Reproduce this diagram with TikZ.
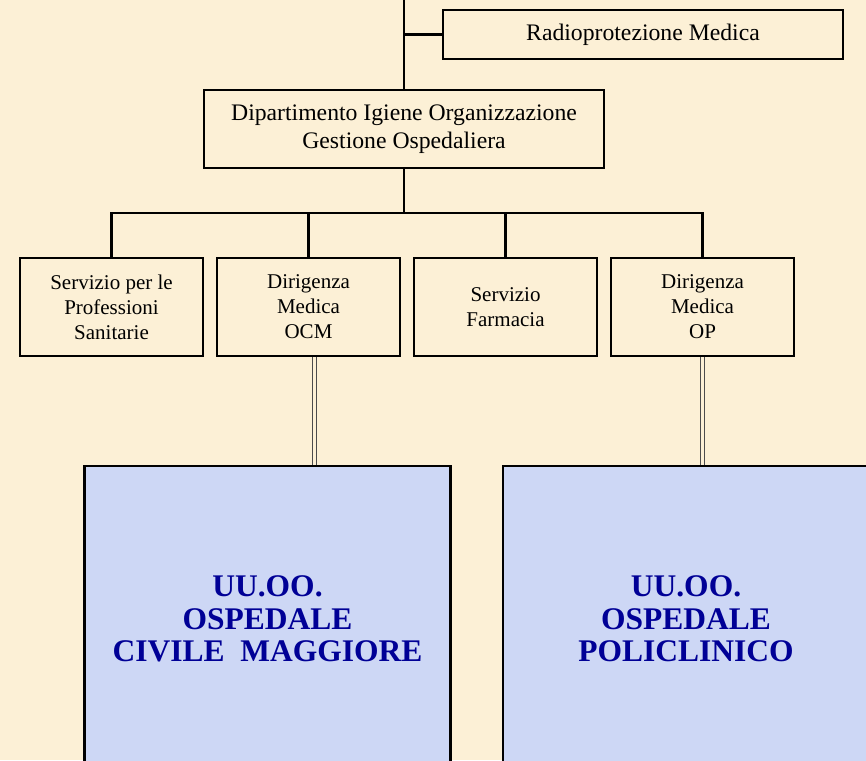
\documentclass[tikz,border=0pt]{standalone}
\usepackage{fontspec}
\setmainfont{Liberation Serif}
\definecolor{parch}{RGB}{252,240,214}
\definecolor{uoblue}{RGB}{205,215,245}
\definecolor{uotext}{RGB}{0,0,150}

\begin{document}
\begin{tikzpicture}[x=1pt, y=-1pt, node distance=197pt,
  box/.style={draw, line width=2.2pt, inner sep=0pt, align=center, minimum width=183pt, minimum height=98pt, font=\fontsize{21}{25}\selectfont},
  headbox/.style={draw, line width=2.2pt, inner sep=0pt, align=center, minimum width=400pt, font=\fontsize{23.7}{28}\selectfont},
  uobox/.style={draw, line width=2.2pt, fill=uoblue, inner sep=0pt, align=center, minimum width=366pt, minimum height=306pt, text=uotext, font=\fontsize{31.5}{32.5}\selectfont\bfseries},
  link/.style={line width=2.2pt},
  dbl/.style={draw=gray!60!black, line width=1.3pt, double=parch, double distance=2.8pt}]
\fill[parch] (0,0) rectangle (866,760);
\useasboundingbox (0,0) rectangle (866,760);
\clip (0,0) rectangle (866,760);

\node[headbox, minimum height=49pt] (radio) at (643,34.5) {Radioprotezione Medica};
\node[headbox, minimum height=78pt] (dip) at (404,129) {Dipartimento Igiene Organizzazione\\Gestione Ospedaliera};
\node[box] (prof) at (111.5,307) {Servizio per le\\Professioni\\Sanitarie};
\node[box, right of=prof] (dirocm) {Dirigenza\\Medica\\OCM};
\node[box, right of=dirocm] (farm) {Servizio\\Farmacia};
\node[box, right of=farm] (dirop) {Dirigenza\\Medica\\OP};
\node[uobox] (ocm) at (267.5,619) {UU.OO.\\OSPEDALE\\CIVILE\ \ MAGGIORE};
\node[uobox] (op) at (686,619) {UU.OO.\\OSPEDALE\\POLICLINICO};

\coordinate (top) at (404,0);
\coordinate (bus) at (404,213);
\draw[link] (top) -- (dip.north);
\draw[link] (top |- radio.west) -- (radio.west);
\draw[link] (dip.south) -- (bus);
\draw[link] (prof.north) |- (bus) -| (dirop.north);
\draw[link] (dirocm.north) -- (dirocm.north |- bus);
\draw[link] (farm.north) -- (farm.north |- bus);
\draw[dbl] ([xshift=6pt]dirocm.south) -- ([xshift=6pt]dirocm.south |- ocm.north);
\draw[dbl] (dirop.south) -- (dirop.south |- op.north);
\end{tikzpicture}
\end{document}
